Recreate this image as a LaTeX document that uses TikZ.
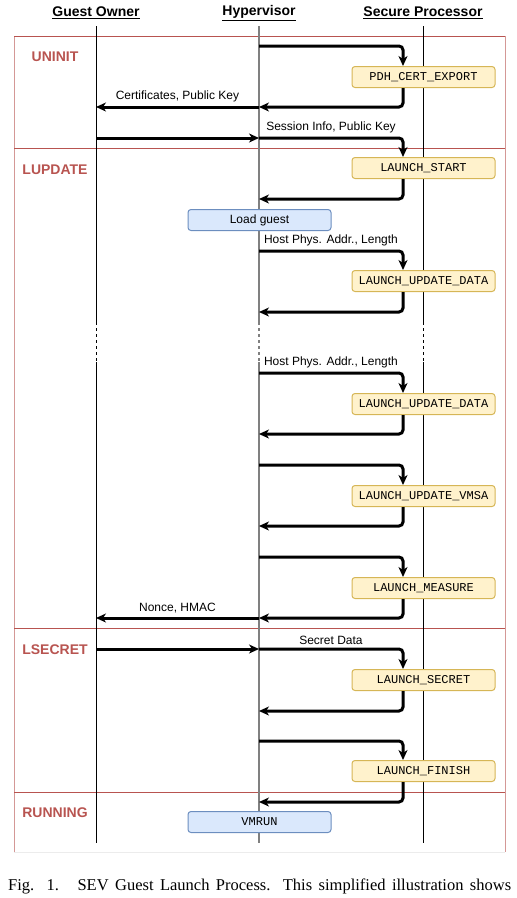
\documentclass[tikz,border=0pt]{standalone}
\usepackage{fontspec}
\setmainfont{Liberation Serif}
\setsansfont{Liberation Sans}
\setmonofont{Liberation Mono}
\usetikzlibrary{arrows.meta,positioning,calc}
\definecolor{phasered}{HTML}{B85450}
\definecolor{cmdfill}{HTML}{FFF2CC}
\definecolor{cmdline}{HTML}{D6B656}
\definecolor{hostfill}{HTML}{DAE8FC}
\definecolor{hostline}{HTML}{6C8EBF}

\begin{document}
\begin{tikzpicture}
  [x=1pt,y=-1pt,every node/.style={font=\sffamily\fontsize{12}{14}\selectfont}]
  \tikzstyle{actor}=[font=\sffamily\bfseries\fontsize{14}{16}\selectfont]
  \tikzstyle{phase}=[text=phasered,font=\sffamily\bfseries\fontsize{14}{16}\selectfont]
  \tikzstyle{cmd}=[draw=cmdline,fill=cmdfill,line width=1pt,rounded corners=3pt,minimum width=143pt,minimum height=21pt,inner sep=0pt,font=\ttfamily\fontsize{12}{14}\selectfont]
  \tikzstyle{host}=[cmd,draw=hostline,fill=hostfill]
  \tikzstyle{msg}=[line width=3pt,rounded corners=4pt,-{Stealth[length=10pt,width=9pt,inset=3pt]}]
  \useasboundingbox (0,0) rectangle (517,898);

  \node[actor] (go) at (96,13) {\underline{Guest Owner}};
  \node[actor] (hv) at (259,13) {\underline{Hypervisor}};
  \node[actor] (sp) at (423,13) {\underline{Secure Processor}};

  \draw[phasered!60] (14,852) -- (14,36) (505,36) -- (505,852);
  \draw[phasered] (14,36) -- (505,36);
  \draw[phasered] (14,148) -- (505,148);
  \draw[phasered] (14,628) -- (505,628);
  \draw[phasered] (14,792) -- (505,792);
  \draw[gray!15] (14,852) -- (505,852);

  \draw (96,26) -- (96,322) (96,362) -- (96,843);
  \draw (423,26) -- (423,322) (423,362) -- (423,843);
  \draw[dash pattern=on 3pt off 3pt] (96,322) -- (96,362) (423,322) -- (423,362);
  \draw[gray,line width=1.6pt] (259,26) -- (259,322) (259,362) -- (259,843);
  \draw[gray,line width=1.6pt,dash pattern=on 3pt off 3pt] (259,322) -- (259,362);

  \node[phase] (uninit) at (55,57) {UNINIT};
  \node[phase] (lupdate) at (55,170) {LUPDATE};
  \node[phase] (lsecret) at (55,650) {LSECRET};
  \node[phase] (running) at (55,813) {RUNNING};

  \node[cmd] (pdh) at (423.5,77) {PDH\_CERT\_EXPORT};
  \node[cmd] (start) at (423.5,168) {LAUNCH\_START};
  \node[host] (load) at (259.5,220) {\sffamily Load guest};
  \node[cmd] (data1) at (423.5,281) {LAUNCH\_UPDATE\_DATA};
  \node[cmd] (data2) at (423.5,404) {LAUNCH\_UPDATE\_DATA};
  \node[cmd] (vmsa) at (423.5,496) {LAUNCH\_UPDATE\_VMSA};
  \node[cmd] (measure) at (423.5,588) {LAUNCH\_MEASURE};
  \node[cmd] (secret) at (423.5,680) {LAUNCH\_SECRET};
  \node[cmd] (finish) at (423.5,771) {LAUNCH\_FINISH};
  \node[host] (vmrun) at (259.5,822) {VMRUN};

  \coordinate (h1) at (259,46);
  \coordinate (h2) at (259,107);
  \coordinate (g1) at (96,107);
  \coordinate (g2) at (96,138);
  \coordinate (h3) at (259,138);
  \coordinate (h4) at (259,199);
  \coordinate (h5) at (259,251);
  \coordinate (h6) at (259,312);
  \coordinate (h7) at (259,373);
  \coordinate (h8) at (259,434);
  \coordinate (h9) at (259,465);
  \coordinate (h10) at (259,526);
  \coordinate (h11) at (259,557);
  \coordinate (h12) at (259,618);
  \coordinate (g3) at (96,618);
  \coordinate (g4) at (96,649);
  \coordinate (h13) at (259,649);
  \coordinate (h14) at (259,711);
  \coordinate (h15) at (259,741);
  \coordinate (h16) at (259,802);

  \draw[msg] (h1) -| ([xshift=-20.5pt]pdh.north);
  \draw[msg] ([xshift=-20.5pt]pdh.south) |- (h2);
  \draw[msg] (h2) -- node[above] {Certificates, Public Key} (g1);
  \draw[msg] (g2) -- (h3);
  \draw[msg] (h3) -| node[pos=.25,above] {Session Info, Public Key} ([xshift=-20.5pt]start.north);
  \draw[msg] ([xshift=-20.5pt]start.south) |- (h4);
  \draw[msg] (h5) -| node[pos=.25,above] {Host Phys. Addr., Length} ([xshift=-20.5pt]data1.north);
  \draw[msg] ([xshift=-20.5pt]data1.south) |- (h6);
  \draw[msg] (h7) -| node[pos=.25,above] {Host Phys. Addr., Length} ([xshift=-20.5pt]data2.north);
  \draw[msg] ([xshift=-20.5pt]data2.south) |- (h8);
  \draw[msg] (h9) -| ([xshift=-20.5pt]vmsa.north);
  \draw[msg] ([xshift=-20.5pt]vmsa.south) |- (h10);
  \draw[msg] (h11) -| ([xshift=-20.5pt]measure.north);
  \draw[msg] ([xshift=-20.5pt]measure.south) |- (h12);
  \draw[msg] (h12) -- node[above] {Nonce, HMAC} (g3);
  \draw[msg] (g4) -- (h13);
  \draw[msg] (h13) -| node[pos=.25,above] {Secret Data} ([xshift=-20.5pt]secret.north);
  \draw[msg] ([xshift=-20.5pt]secret.south) |- (h14);
  \draw[msg] (h15) -| ([xshift=-20.5pt]finish.north);
  \draw[msg] ([xshift=-20.5pt]finish.south) |- (h16);

  \node[anchor=base west,inner sep=0pt,font=\rmfamily\fontsize{16.5}{18}\selectfont] (caption) at (8,890)
    {\makebox[503pt][s]{Fig. 1.\hspace{6pt} SEV Guest Launch Process. This simplified illustration shows}};
\end{tikzpicture}
\end{document}
